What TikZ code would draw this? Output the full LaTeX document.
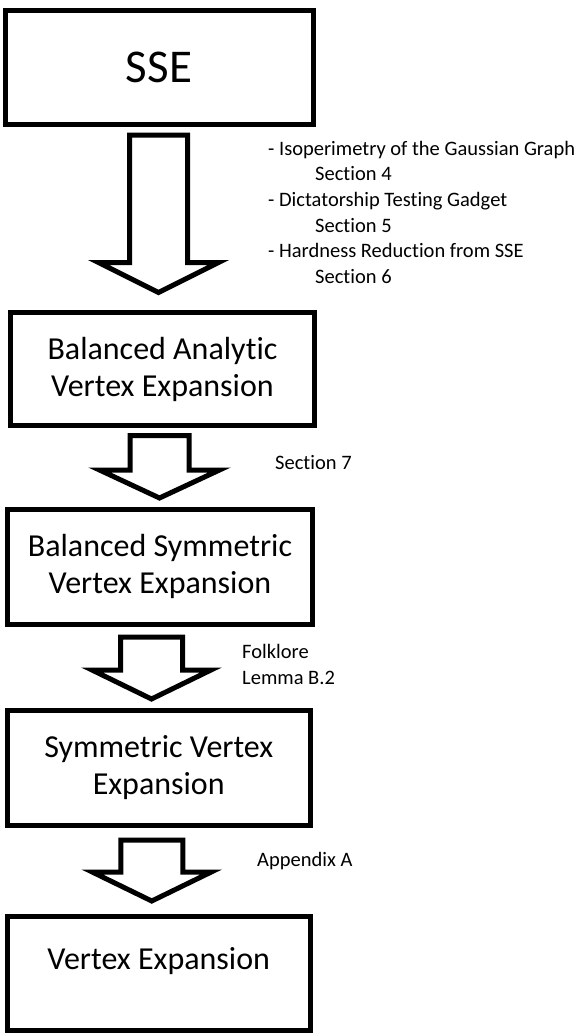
\documentclass[tikz,border=0pt]{standalone}
\usepackage{fontspec}
\setmainfont{Carlito}[Ligatures=NoCommon]
\usetikzlibrary{calc}

\begin{document}
\begin{tikzpicture}[x=1pt, y=-1pt,
    box/.style={draw, line width=5pt, outer sep=0pt, align=center, font=\fontsize{32}{37}\selectfont},
    hollow/.style={draw, line width=5pt, line join=miter},
    note/.style={anchor=base west, inner sep=0pt, align=left, font=\fontsize{20.5}{25.7}\selectfont}]
    \useasboundingbox (0,0) rectangle (586,1034);

    % Boxes
    \node[box, minimum width=308pt, minimum height=114pt, font=\fontsize{47}{50}\selectfont] (sse) at (159,67) {SSE};
    \node[box, minimum width=304pt, minimum height=113pt] (bav) at (162.5,369) {Balanced Analytic\\Vertex Expansion};
    \node[box, minimum width=305pt, minimum height=115pt] (bsv) at (160,566.5) {Balanced Symmetric\\Vertex Expansion};
    \node[box, minimum width=303.5pt, minimum height=115pt] (sv) at (158.75,768) {Symmetric Vertex\\Expansion};
    \node[box, minimum width=303.5pt, minimum height=114pt, text depth=30pt] (ve) at (158.75,973.5) {Vertex Expansion};

    % Arrow ends
    \coordinate (a1) at ($(sse.south)+(-0.5,11)$);
    \coordinate (t1) at ($(a1 |- bav.north)+(0,-20)$);
    \coordinate (a2) at ($(bav.south)+(-3,10)$);
    \coordinate (t2) at ($(a2 |- bsv.north)+(0,-11)$);
    \coordinate (a3) at ($(bsv.south)+(-8.5,13)$);
    \coordinate (t3) at ($(a3 |- sv.north)+(0,-11.5)$);
    \coordinate (a4) at ($(sv.south)+(-7,14.5)$);
    \coordinate (t4) at ($(a4 |- ve.north)+(0,-15.5)$);

    % Hollow arrows
    \draw[hollow] ($(a1)+(-29,0)$) -- ($(a1)+(29,0)$) -- ($(t1)+(29,-30)$) -- ($(t1)+(60,-30)$) -- (t1) -- ($(t1)+(-60,-30)$) -- ($(t1)+(-29,-30)$) -- cycle;
    \draw[hollow] ($(a2)+(-29.5,0)$) -- ($(a2)+(29.5,0)$) -- ($(t2)+(29.5,-28)$) -- ($(t2)+(60,-28)$) -- (t2) -- ($(t2)+(-60,-28)$) -- ($(t2)+(-29.5,-28)$) -- cycle;
    \draw[hollow] ($(a3)+(-31,0)$) -- ($(a3)+(31,0)$) -- ($(t3)+(31,-29)$) -- ($(t3)+(59.5,-29)$) -- (t3) -- ($(t3)+(-59.5,-29)$) -- ($(t3)+(-31,-29)$) -- cycle;
    \draw[hollow] ($(a4)+(-31,0)$) -- ($(a4)+(31,0)$) -- ($(t4)+(31,-29)$) -- ($(t4)+(59.5,-29)$) -- (t4) -- ($(t4)+(-59.5,-29)$) -- ($(t4)+(-31,-29)$) -- cycle;

    % Notes
    \node[note] (n1) at (268,283.5) {- Isoperimetry of the Gaussian Graph\\\hspace*{47pt}Section 4\\- Dictatorship Testing Gadget\\\hspace*{47pt}Section 5\\- Hardness Reduction from SSE\\\hspace*{47pt}Section 6};
    \node[note] (n2) at (275,469) {Section 7};
    \node[note] (n3) at (242,684.5) {Folklore\\Lemma B.2};
    \node[note] (n4) at (257,866.7) {Appendix A};
\end{tikzpicture}
\end{document}
